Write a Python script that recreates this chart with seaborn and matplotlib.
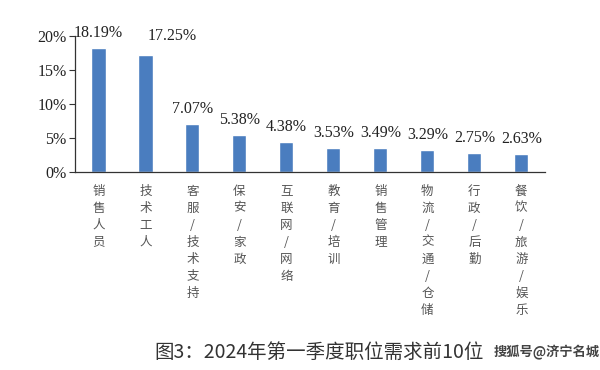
import numpy as np
import pandas as pd
from matplotlib import pyplot as plt
import seaborn as sns

# data
jobs = ['销售人员', '技术工人', '客服/技术支持', '保安/家政', '互联网/网络',
        '教育/培训', '销售管理', '物流/交通/仓储', '行政/后勤', '餐饮/旅游/娱乐']
share = [18.19, 17.25, 7.07, 5.38, 4.38, 3.53, 3.49, 3.29, 2.75, 2.63]
yticks = [0, 5, 10, 15, 20]
title = '图3：2024年第一季度职位需求前10位'
watermark = '搜狐号@济宁名城'

df = pd.DataFrame({'job': jobs, 'share': share})

sns.set_style('white')
plt.rcParams['font.family'] = ['Noto Sans CJK SC', 'DejaVu Sans']

f, ax = plt.subplots(figsize=(6, 3.7), dpi=100)
f.subplots_adjust(left=0.125, right=0.908, bottom=0.535, top=0.903)

sns.barplot(x='job', y='share', data=df, color='#4a7dbf', width=0.3,
            saturation=1, ax=ax)

serif = ['Liberation Serif', 'DejaVu Serif']
for i, v in enumerate(share):
    # second label sits to the right so it does not collide with the first
    off = (19, 8) if i == 1 else (0, 5)
    ax.annotate(f'{v:.2f}%', (i, v), xytext=off, textcoords='offset points',
                ha='center', va='bottom', fontsize=11.5, family=serif,
                color='#222222', annotation_clip=False)

ax.set_ylim(0, 20)
ax.set_xlim(-0.5, len(jobs) - 0.5)
ax.set_yticks(yticks)
ax.set_yticklabels([f'{t}%' for t in yticks], family=serif, fontsize=11.5,
                   color='#222222')
ax.set_xticks(range(len(jobs)))
ax.set_xticklabels(['\n'.join(j) for j in jobs], fontsize=9, color='#555555',
                   linespacing=1.4, va='top')
ax.tick_params(axis='x', length=0, pad=9)
ax.tick_params(axis='y', length=4, direction='out', left=True, width=0.8,
               color='#333333', pad=2)
ax.set_xlabel('')
ax.set_ylabel('')
for s in ['top', 'right']:
    ax.spines[s].set_visible(False)
for s in ['left', 'bottom']:
    ax.spines[s].set_color('#333333')
    ax.spines[s].set_linewidth(0.9)

f.text(0.258, 0.048, title, ha='left', va='center', fontsize=14,
       color='#333333')
f.text(0.822, 0.048, watermark, ha='left', va='center', fontsize=9.5,
       color='#444444', fontweight='bold',
       bbox=dict(facecolor='white', edgecolor='none', pad=1))

plt.savefig('out.png')
